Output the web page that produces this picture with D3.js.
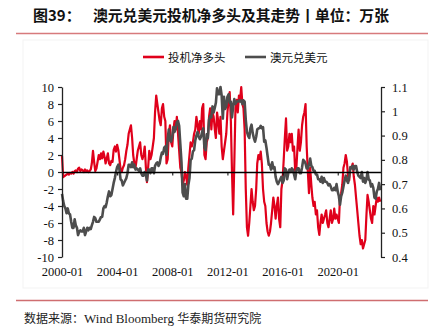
<!DOCTYPE html>
<html><head><meta charset="utf-8">
<script src="https://cdn.jsdelivr.net/npm/d3@7/dist/d3.min.js"></script>
<style>body{margin:0;background:#fff}svg{display:block}
.serif{font-family:"Liberation Serif","Times New Roman",serif !important}
</style>
</head><body>
<svg id="c" width="433" height="326"></svg>
<script>
// ---- data (monthly, 2000-01 .. 2023-02) ----
const startMonth = "2000-01";
const endMonth = "2023-02";
const netLong = [
  // 2000
  1.9,-0.6,-0.5,-0.4,-0.3,-0.2,-0.3,-0.1,-0.2,0.0,-0.2,0.1,
  // 2001
  0.2,0.0,0.4,0.5,0.1,0.3,0.2,0.0,0.3,0.1,0.2,0.0,
  // 2002
  0.1,0.3,1.0,2.5,1.2,0.1,0.4,1.2,2.0,1.5,2.2,1.6,
  // 2003
  2.4,1.8,1.0,1.6,2.2,1.0,0.8,1.3,1.2,2.6,3.0,2.4,
  // 2004
  3.2,2.6,1.5,0.3,0.0,0.5,0.8,1.5,2.5,3.2,4.5,5.0,
  // 2005
  5.5,4.0,2.0,1.0,0.5,1.5,2.5,3.0,3.5,2.0,1.5,2.0,
  // 2006
  3.0,0.5,-1.2,0.5,2.5,1.5,2.0,3.0,4.0,7.0,9.0,8.0,
  // 2007
  7.0,6.0,5.5,7.5,8.0,6.5,6.0,1.0,1.5,4.5,5.5,3.5,
  // 2008
  3.0,5.0,6.0,5.0,6.5,4.5,2.5,0.5,0.0,-1.5,-1.0,0.0,
  // 2009
  -0.5,-1.5,0.5,2.0,3.5,3.0,3.5,4.5,5.0,6.5,5.5,4.5,
  // 2010
  6.0,5.0,7.5,8.0,2.0,1.5,3.5,4.0,6.5,7.5,5.0,7.0,
  // 2011
  6.5,5.0,4.0,7.0,6.0,4.5,6.5,3.0,1.5,2.5,3.5,4.5,
  // 2012
  7.0,8.5,9.4,6.0,0.0,-5.0,1.0,7.5,8.5,7.0,9.0,8.5,
  // 2013
  10.0,8.0,7.5,5.0,-2.0,-6.5,-7.5,-6.0,-4.0,-2.0,-3.5,-4.5,
  // 2014
  -4.0,-2.0,1.0,2.0,1.5,2.4,1.0,-2.0,-3.5,-4.0,-6.0,-7.0,
  // 2015
  -7.5,-7.0,-6.0,-4.5,-3.0,-4.0,-5.5,-4.0,-3.0,-5.5,-6.5,-2.0,
  // 2016
  -1.0,1.5,4.0,6.3,2.5,3.0,4.5,3.5,4.5,2.5,3.0,0.0,
  // 2017
  0.5,3.0,5.0,2.5,3.5,5.5,6.5,7.0,8.0,3.0,0.0,-2.5,
  // 2018
  0.5,-1.5,-3.0,-4.0,-3.5,-5.0,-4.5,-6.5,-7.4,-6.0,-5.0,-6.0,
  // 2019
  -5.5,-5.0,-4.5,-6.0,-6.5,-5.5,-4.5,-6.0,-5.5,-4.3,-5.5,-5.0,
  // 2020
  -5.5,-6.0,-3.0,-2.5,-1.5,0.5,1.0,2.0,1.2,-0.5,-1.0,0.5,
  // 2021
  0.5,1.0,-0.5,-1.5,-3.0,-4.5,-6.0,-7.5,-8.5,-8.0,-9.0,-8.5,
  // 2022
  -8.0,-5.0,-2.7,-3.5,-4.5,-5.5,-6.0,-4.0,-5.0,-4.0,-3.0,-3.5,
  // 2023
  -3.0,-3.5
];
const audusd = [
  // 2000
  .66,.63,.61,.60,.58,.60,.58,.575,.545,.52,.52,.555,
  // 2001
  .53,.52,.49,.505,.51,.505,.505,.52,.49,.505,.52,.51,
  // 2002
  .52,.515,.53,.545,.565,.56,.545,.545,.545,.555,.565,.565,
  // 2003
  .60,.61,.605,.625,.65,.67,.65,.655,.68,.705,.725,.75,
  // 2004
  .77,.78,.76,.72,.715,.695,.705,.715,.725,.745,.78,.78,
  // 2005
  .77,.79,.77,.78,.76,.765,.76,.755,.765,.745,.735,.735,
  // 2006
  .75,.74,.715,.76,.76,.745,.765,.765,.745,.775,.785,.79,
  // 2007
  .775,.785,.81,.83,.825,.85,.855,.82,.885,.925,.88,.875,
  // 2008
  .895,.935,.915,.93,.955,.96,.94,.865,.79,.665,.65,.70,
  // 2009
  .64,.64,.695,.725,.80,.805,.835,.84,.88,.90,.915,.895,
  // 2010
  .885,.895,.915,.93,.85,.84,.905,.89,.965,.98,.975,1.02,
  // 2011
  .995,1.015,1.035,1.095,1.07,1.07,1.10,1.065,.97,1.06,1.01,1.02,
  // 2012
  1.06,1.07,1.035,1.04,.975,1.02,1.05,1.03,1.04,1.04,1.045,1.04,
  // 2013
  1.045,1.03,1.045,1.04,.965,.915,.90,.89,.93,.945,.91,.89,
  // 2014
  .875,.895,.925,.93,.93,.94,.93,.935,.875,.88,.85,.815,
  // 2015
  .78,.78,.76,.79,.765,.77,.73,.71,.70,.71,.72,.73,
  // 2016
  .705,.715,.765,.76,.72,.745,.76,.75,.765,.76,.74,.72,
  // 2017
  .755,.765,.765,.745,.745,.77,.80,.795,.785,.765,.765,.78,
  // 2018
  .805,.775,.77,.755,.755,.74,.74,.72,.72,.71,.73,.705,
  // 2019
  .725,.71,.71,.705,.695,.70,.69,.675,.675,.685,.675,.70,
  // 2020
  .67,.65,.615,.65,.665,.69,.715,.735,.715,.705,.735,.77,
  // 2021
  .765,.775,.76,.775,.775,.75,.735,.73,.725,.75,.71,.725,
  // 2022
  .705,.72,.75,.72,.715,.69,.70,.685,.645,.64,.67,.68,
  // 2023
  .705,.675
];
const leftTicks = [-10,-8,-6,-4,-2,0,2,4,6,8,10];
const rightTicks = [0.4,0.5,0.6,0.7,0.8,0.9,1.0,1.1];
const xTickLabels = ["2000-01","2004-01","2008-01","2012-01","2016-01","2020-01"];
const seriesNames = ["投机净多头","澳元兑美元"];
const titleLabel = "图39：";
const titleText = "澳元兑美元投机净多头及其走势丨单位：万张";
const sourceParts = [["数据来源：","cjk"],["Wind  Bloomberg ","serif"],["华泰期货研究院","cjk"]];

// ---- drawing ----
const parseM = d3.timeParse("%Y-%m");
const dates = d3.timeMonth.range(parseM(startMonth), d3.timeMonth.offset(parseM(endMonth),1));
const rows = dates.map((d,i)=>({date:d, net:netLong[i], aud:audusd[i]}));

const svg = d3.select("#c");
const L=62, R=381, T=87, B=257;
const x = d3.scaleTime().domain([parseM(startMonth), d3.timeDay.offset(parseM(endMonth),20)]).range([L,R]);
const yL = d3.scaleLinear().domain([-10,10]).range([B,T]);
const yR = d3.scaleLinear().domain([0.4,1.1]).range([B,T]);

const serif = '"Liberation Serif","Times New Roman",serif';
const cjk = '"Noto Sans CJK SC","Noto Sans",sans-serif';

// faint chart frame
svg.append("rect").attr("x",23).attr("y",40).attr("width",405).attr("height",248)
  .attr("fill","none").attr("stroke","#f3f3f3").attr("stroke-width",1);

// title
svg.append("text").attr("x",33).attr("y",21).style("font-family",cjk).attr("font-weight","bold")
  .attr("font-size",15).attr("fill","#111").text(titleLabel);
svg.append("text").attr("x",93).attr("y",21).style("font-family",cjk).attr("font-weight","bold")
  .attr("font-size",14.8).attr("fill","#111").text(titleText);
svg.append("line").attr("x1",16).attr("x2",428).attr("y1",33.5).attr("y2",33.5)
  .attr("stroke","#d77a7c").attr("stroke-width",1.6);

// legend
const legend = [{name:seriesNames[0], color:"#e0001b", x:143},{name:seriesNames[1], color:"#4d4d4d", x:245}];
legend.forEach(l=>{
  svg.append("line").attr("x1",l.x).attr("x2",l.x+21).attr("y1",57).attr("y2",57)
    .attr("stroke",l.color).attr("stroke-width",2.6);
  svg.append("text").attr("x",l.x+25).attr("y",61.5).style("font-family",cjk)
    .attr("font-size",11.5).attr("fill","#111").text(l.name);
});

// lines
const lineNet = d3.line().x(d=>x(d.date)).y(d=>yL(d.net));
const lineAud = d3.line().x(d=>x(d.date)).y(d=>yR(d.aud));
svg.append("path").datum(rows).attr("d",lineNet).attr("fill","none")
  .attr("stroke","#e0001b").attr("stroke-width",2.2).attr("stroke-linejoin","round");
svg.append("path").datum(rows).attr("d",lineAud).attr("fill","none")
  .attr("stroke","#4d4d4d").attr("stroke-width",2.6).attr("stroke-linejoin","round");

// zero axis with ticks
const tickDates = xTickLabels.map(parseM);
const zeroAxis = svg.append("g").attr("transform",`translate(0,${yL(0)})`)
  .call(d3.axisBottom(x).tickValues(tickDates).tickSize(3.5).tickSizeOuter(0).tickFormat(""));
zeroAxis.select(".domain").attr("stroke","#000").attr("stroke-width",1.4);
zeroAxis.selectAll(".tick line").attr("stroke","#000").attr("stroke-width",1);

// bottom labels
const bottomAxis = svg.append("g").attr("transform",`translate(0,${B+7})`)
  .call(d3.axisBottom(x).tickValues(tickDates).tickSize(0).tickPadding(3)
    .tickFormat((d,i)=>xTickLabels[i]));
bottomAxis.attr("font-family",serif).attr("font-size",12.5);
bottomAxis.select(".domain").remove();
bottomAxis.selectAll("text").attr("class","serif").style("font-family",serif).style("font-size","12.5px").attr("fill","#111");

// left axis
const la = svg.append("g").attr("transform",`translate(${L},0)`)
  .call(d3.axisLeft(yL).tickValues(leftTicks).tickSize(4).tickSizeOuter(0).tickPadding(4).tickFormat(d=>String(d)));
la.attr("font-family",serif).attr("font-size",12.5);
la.select(".domain").attr("stroke","#222").attr("stroke-width",1.3);
la.selectAll(".tick line").attr("stroke","#222").attr("stroke-width",1.2);
la.selectAll("text").attr("class","serif").style("font-family",serif).style("font-size","12.5px").attr("fill","#111");

// right axis
const ra = svg.append("g").attr("transform",`translate(${R},0)`)
  .call(d3.axisRight(yR).tickValues(rightTicks).tickSize(4).tickSizeOuter(0).tickPadding(7)
    .tickFormat(d=>String(+d.toFixed(1))));
ra.attr("font-family",serif).attr("font-size",12.5);
ra.select(".domain").attr("stroke","#222").attr("stroke-width",1.3);
ra.selectAll(".tick line").attr("stroke","#222").attr("stroke-width",1.2);
ra.selectAll("text").attr("class","serif").style("font-family",serif).style("font-size","12.5px").attr("fill","#111");

// footer
svg.append("line").attr("x1",16).attr("x2",428).attr("y1",300.5).attr("y2",300.5)
  .attr("stroke","#cf6e70").attr("stroke-width",1.6);
const foot = svg.append("text").attr("x",24).attr("y",323).attr("font-size",12).attr("fill","#222");
sourceParts.forEach(([t,f])=>{
  foot.append("tspan").style("font-family", f==="serif"?serif:cjk)
    .style("font-size", f==="serif"?"13px":"12px").text(t);
});
</script>
</body></html>
